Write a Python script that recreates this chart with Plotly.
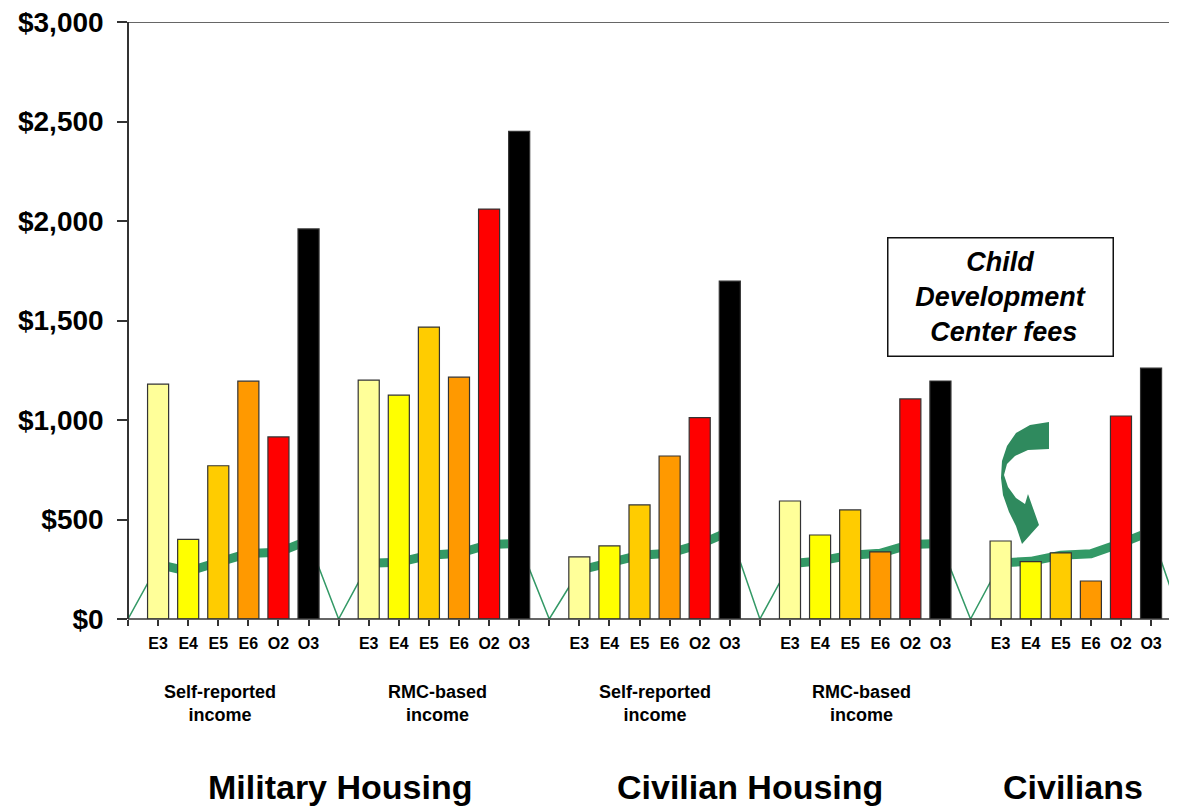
import plotly.graph_objects as go

# rank order inside every group
ranks = ["E3", "E4", "E5", "E6", "O2", "O3"]
rank_colors = ["#FFFF99", "#FFFF00", "#FFCC00", "#FF9900", "#FF0000", "#000000"]

# five groups of bars, left to right
income_labels = ["Self-reported<br>income", "RMC-based<br>income",
                 "Self-reported<br>income", "RMC-based<br>income", ""]
housing_labels = ["Military Housing", "Civilian Housing", "Civilians"]

# y axis ticks
y_ticks = [0, 500, 1000, 1500, 2000, 2500, 3000]
y_ticktext = ["$0", "$500", "$1,000", "$1,500", "$2,000", "$2,500", "$3,000"]

# bar values (dollars), one list per group, in rank order
mil_self = [1180, 400, 770, 1195, 915, 1960]
mil_rmc = [1200, 1125, 1467, 1215, 2060, 2450]
civ_self = [312, 367, 573, 819, 1012, 1698]
civ_rmc = [593, 422, 548, 337, 1106, 1196]
civilians = [392, 288, 332, 191, 1020, 1261]
bar_groups = [mil_self, mil_rmc, civ_self, civ_rmc, civilians]

# Child Development Center fees (green line), one list per group
cdc_mil_self = [275, 240, 285, 330, 335, 395]
cdc_mil_rmc = [280, 285, 320, 330, 375, 380]
cdc_civ_self = [245, 285, 320, 330, 375, 440]
cdc_civ_rmc = [278, 292, 320, 330, 375, 380]
cdc_civilians = [282, 290, 320, 328, 380, 440]
cdc_groups = [cdc_mil_self, cdc_mil_rmc, cdc_civ_self, cdc_civ_rmc, cdc_civilians]

FONT = "Liberation Sans, Arial, sans-serif"
GREEN = "#339966"
AXIS = "#333333"
NBSP = "\u00a0"
SLOTS = len(ranks) + 1          # one empty slot before each group
n_groups = len(bar_groups)

fig = go.Figure()

# thin line through every slot, dropping to zero between groups
thin_x, thin_y = [], []
for g, fees in enumerate(cdc_groups):
    thin_x.append(g * SLOTS)
    thin_y.append(0)
    for r, v in enumerate(fees):
        thin_x.append(g * SLOTS + 1 + r)
        thin_y.append(v)
thin_x.append(n_groups * SLOTS)
thin_y.append(0)
fig.add_trace(go.Scatter(x=thin_x, y=thin_y, mode="lines", zorder=0,
                         line=dict(color=GREEN, width=1.5), showlegend=False))

# thick line within each group
thick_x, thick_y = [], []
for g, fees in enumerate(cdc_groups):
    for r, v in enumerate(fees):
        thick_x.append(g * SLOTS + 1 + r)
        thick_y.append(v)
    thick_x.append(None)
    thick_y.append(None)
fig.add_trace(go.Scatter(x=thick_x, y=thick_y, mode="lines", connectgaps=False,
                         zorder=0, line=dict(color=GREEN, width=9),
                         showlegend=False))

# bars, one trace per rank, on top of the line
for r, (name, col) in enumerate(zip(ranks, rank_colors)):
    fig.add_trace(go.Bar(
        x=[g * SLOTS + 1 + r for g in range(n_groups)],
        y=[grp[r] for grp in bar_groups],
        width=0.7, zorder=1,
        marker=dict(color=col, line=dict(color=AXIS, width=1.2)),
        name=name, showlegend=False))

# tick labels: blank at the empty slots
tickvals = list(range(n_groups * SLOTS + 1))
ticktext = []
for t in tickvals:
    k = t % SLOTS
    ticktext.append("" if k == 0 else ranks[k - 1])

# page geometry: the browser puts an 8px margin round the figure
PAGE_OFF = 8
PLOT_L, PLOT_R, PLOT_T, PLOT_B = 128, 1177, 22, 619   # plot area in window pixels
W, H = 1177 - PAGE_OFF, 808 - PAGE_OFF
ML, MT = PLOT_L - PAGE_OFF, PLOT_T - PAGE_OFF
MR = W + PAGE_OFF - PLOT_R
MB = H + PAGE_OFF - PLOT_B
slot_px = 30.09
xmax = (PLOT_R - PLOT_L) / slot_px
plot_h = PLOT_B - PLOT_T


def px(xp, yp):
    """window pixel position -> data coordinates"""
    return (xp - PLOT_L) / slot_px, (PLOT_B - yp) * 3000 / plot_h


def py_paper(yp):
    return (PLOT_B - yp) / plot_h


# curved arrow (traced outline in pixels)
arrow_px = [(1049, 422), (1030, 425), (1016, 433), (1007, 446), (1002, 461),
            (1001, 478), (1003, 495), (1009, 512), (1016, 526), (1022, 544),
            (1039, 525), (1028, 494), (1025, 504), (1016, 498), (1008, 487),
            (1004, 475), (1007, 464), (1015, 456), (1028, 450), (1049, 449)]
pts = [px(a, b) for a, b in arrow_px]
path = "M " + " L ".join(f"{a:.3f},{b:.2f}" for a, b in pts) + " Z"
fig.add_shape(type="path", path=path, xref="x", yref="y",
              fillcolor="#2F8A5E", line=dict(width=0), layer="above")

# axis lines and the top border line at $3,000
fig.add_shape(type="line", xref="paper", yref="y", x0=-10 / (PLOT_R - PLOT_L), x1=1,
              y0=3000, y1=3000, line=dict(color=AXIS, width=1.5), layer="above")
fig.add_shape(type="line", xref="paper", yref="paper", x0=0, x1=0, y0=0, y1=1,
              line=dict(color=AXIS, width=2), layer="above")
fig.add_shape(type="line", xref="paper", yref="paper", x0=0, x1=1, y0=0, y1=0,
              line=dict(color=AXIS, width=1.5), layer="above")

# income labels under each group
inc_x = [3.07, 10.3, 17.53, 24.37]
for xv, txt in zip(inc_x, income_labels):
    fig.add_annotation(x=xv, y=py_paper(703), xref="x", yref="paper",
                       xanchor="center", yanchor="middle",
                       text=txt, showarrow=False,
                       font=dict(family=FONT, size=18, color="black", weight="bold"))

# housing labels
house_x = [7.06, 20.67, 31.4]
for xv, txt in zip(house_x, housing_labels):
    fig.add_annotation(x=xv, y=py_paper(787), xref="x", yref="paper",
                       xanchor="center", yanchor="middle",
                       text=txt, showarrow=False,
                       font=dict(family=FONT, size=34, color="black", weight="bold"))

# boxed legend note
bx, by = px(1000, 297)
fig.add_annotation(x=bx, y=by, xref="x", yref="y", showarrow=False,
                   xanchor="center", yanchor="middle",
                   text="<i>Child<br>Development<br> Center fees</i>",
                   font=dict(family=FONT, size=27, color="black", weight="bold"),
                   bordercolor="#111111", borderwidth=1.5, borderpad=3,
                   bgcolor="white", width=218, height=111)

fig.update_layout(
    width=W, height=H, barmode="overlay",
    margin=dict(l=ML, r=MR, t=MT, b=MB, pad=0),
    paper_bgcolor="white", plot_bgcolor="white",
    font=dict(family=FONT, color="black"),
    xaxis=dict(range=[0, xmax], tickmode="array", tickvals=tickvals, ticktext=ticktext,
               automargin=False, ticklabeloverflow="allow", ticklabelstandoff=4,
               showgrid=False, zeroline=False, showline=False,
               ticks="outside", ticklen=6, tickwidth=1.5, tickcolor=AXIS,
               tickfont=dict(family=FONT, size=16, color="black", weight="bold")),
    yaxis=dict(range=[0, 3000], tickmode="array", tickvals=y_ticks,
               ticktext=[t + NBSP for t in y_ticktext],
               automargin=False, ticklabeloverflow="allow",
               showgrid=False, zeroline=False, showline=False,
               ticks="outside", ticklen=10, tickwidth=1.5, tickcolor=AXIS,
               tickfont=dict(family=FONT, size=28, color="black", weight="bold")),
)

fig.write_html("out.html")
